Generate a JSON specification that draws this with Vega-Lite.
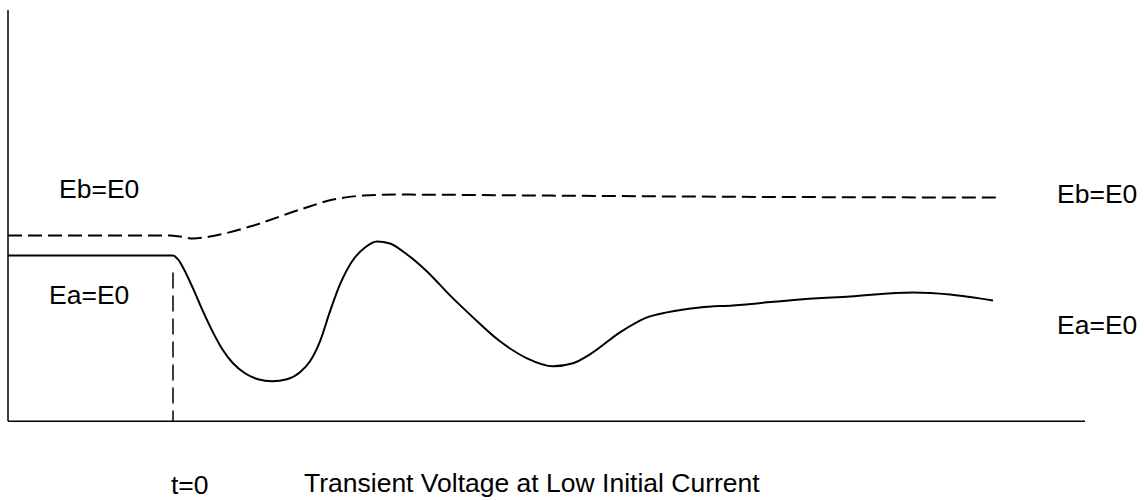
{
  "$schema": "https://vega.github.io/schema/vega-lite/v6.json",
  "autosize": {"type": "fit", "contains": "padding"},
  "width": 1144,
  "height": 500,
  "padding": 0,
  "background": "white",
  "config": {"view": {"stroke": null}},
  "datasets": {
    "ea": [
      {"t": 8, "v": 256}, {"t": 173, "v": 256}, {"t": 178, "v": 260}, {"t": 183, "v": 268},
      {"t": 193, "v": 289}, {"t": 203, "v": 312}, {"t": 213, "v": 333}, {"t": 223, "v": 351},
      {"t": 233, "v": 364}, {"t": 245, "v": 374}, {"t": 258, "v": 380}, {"t": 272, "v": 382},
      {"t": 287, "v": 380}, {"t": 300, "v": 373}, {"t": 310, "v": 362}, {"t": 320, "v": 342},
      {"t": 330, "v": 312}, {"t": 340, "v": 285}, {"t": 352, "v": 262}, {"t": 365, "v": 248},
      {"t": 377, "v": 242}, {"t": 390, "v": 244}, {"t": 403, "v": 252}, {"t": 427, "v": 272},
      {"t": 450, "v": 296}, {"t": 473, "v": 318}, {"t": 500, "v": 342}, {"t": 527, "v": 359},
      {"t": 553, "v": 367}, {"t": 573, "v": 364}, {"t": 590, "v": 355}, {"t": 620, "v": 333},
      {"t": 647, "v": 318}, {"t": 667, "v": 313}, {"t": 700, "v": 308}, {"t": 733, "v": 306},
      {"t": 800, "v": 300}, {"t": 850, "v": 297}, {"t": 913, "v": 293}, {"t": 950, "v": 295},
      {"t": 993, "v": 301}
    ],
    "eb": [
      {"t": 8, "v": 236}, {"t": 170, "v": 236}, {"t": 180, "v": 237}, {"t": 193, "v": 239},
      {"t": 210, "v": 237}, {"t": 250, "v": 227}, {"t": 300, "v": 210}, {"t": 333, "v": 200},
      {"t": 363, "v": 196}, {"t": 400, "v": 195}, {"t": 550, "v": 196}, {"t": 700, "v": 197},
      {"t": 1000, "v": 198}
    ],
    "frame": [
      {"t": 8, "v": 10, "t2": 8, "v2": 422},
      {"t": 8, "v": 422, "t2": 1085, "v2": 422}
    ],
    "marker": [
      {"t": 173, "v": 273, "t2": 173, "v2": 422}
    ],
    "labels": [
      {"t": 59, "v": 190, "text": "Eb=E0"},
      {"t": 49, "v": 297, "text": "Ea=E0"},
      {"t": 1057, "v": 195, "text": "Eb=E0"},
      {"t": 1057, "v": 327, "text": "Ea=E0"},
      {"t": 171, "v": 487, "text": "t=0"},
      {"t": 304, "v": 485, "text": "Transient Voltage at Low Initial Current"}
    ]
  },
  "encoding": {
    "x": {"field": "t", "type": "quantitative", "scale": {"domain": [0, 1144], "nice": false, "zero": false}, "axis": null},
    "y": {"field": "v", "type": "quantitative", "scale": {"domain": [0, 500], "nice": false, "zero": false, "reverse": true}, "axis": null}
  },
  "layer": [
    {
      "data": {"name": "frame"},
      "mark": {"type": "rule", "color": "black", "strokeWidth": 1.5},
      "encoding": {"x2": {"field": "t2"}, "y2": {"field": "v2"}}
    },
    {
      "data": {"name": "marker"},
      "mark": {"type": "rule", "color": "black", "strokeWidth": 1.5, "strokeDash": [16, 7]},
      "encoding": {"x2": {"field": "t2"}, "y2": {"field": "v2"}}
    },
    {
      "data": {"name": "eb"},
      "mark": {"type": "line", "color": "black", "strokeWidth": 2, "strokeDash": [14, 6], "interpolate": "monotone"},
      "encoding": {"order": {"field": "t", "type": "quantitative"}}
    },
    {
      "data": {"name": "ea"},
      "mark": {"type": "line", "color": "black", "strokeWidth": 2, "interpolate": "monotone"},
      "encoding": {"order": {"field": "t", "type": "quantitative"}}
    },
    {
      "data": {"name": "labels"},
      "mark": {"type": "text", "align": "left", "baseline": "middle", "font": "Liberation Sans", "fontSize": 26.5, "color": "black"},
      "encoding": {"text": {"field": "text"}}
    }
  ]
}
